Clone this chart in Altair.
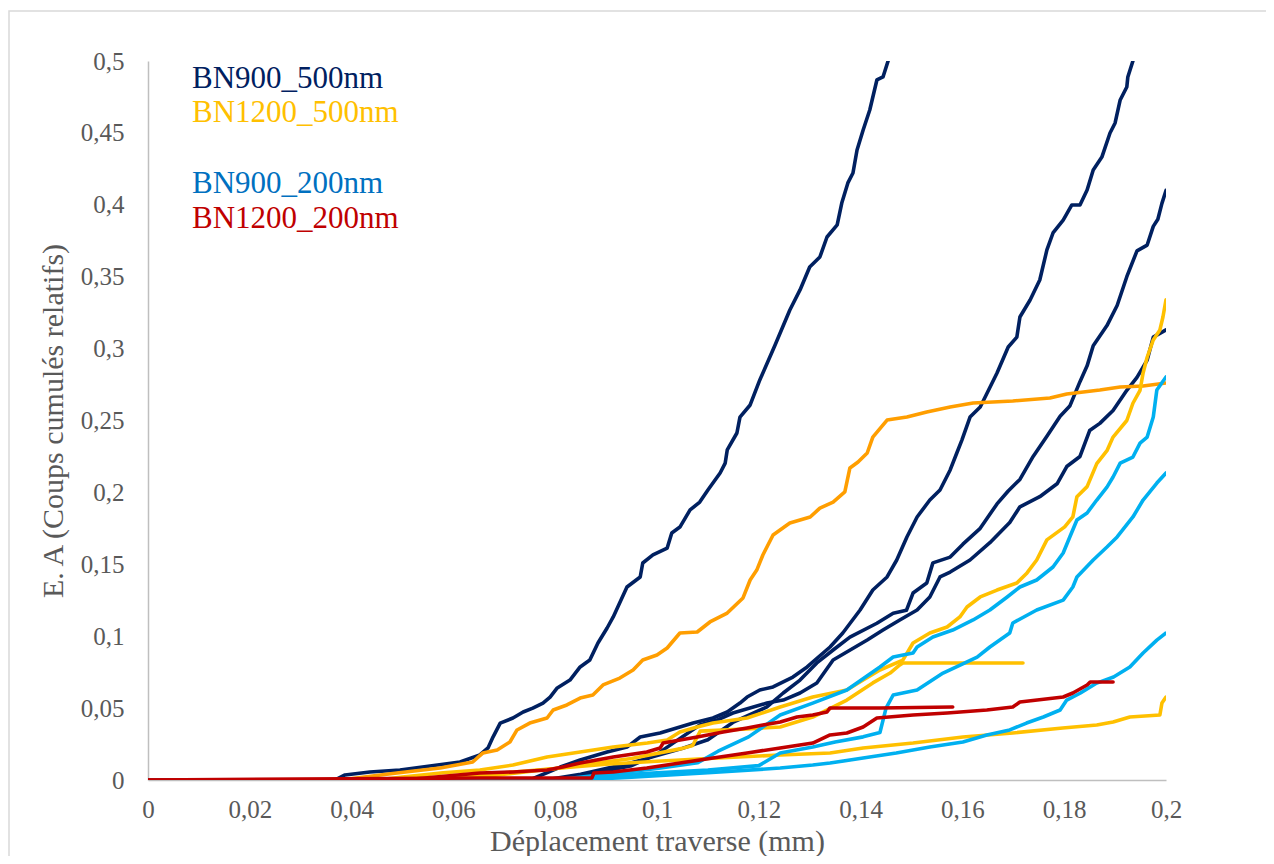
import altair as alt
import pandas as pd

# ---------------- data ----------------
N1_X = [0, 0.0367, 0.0387, 0.0436, 0.0495, 0.0554, 0.0613, 0.0652, 0.0668, 0.0678, 0.0692, 0.0717, 0.0737, 0.0756, 0.0776, 0.079, 0.0804, 0.0829, 0.0849, 0.0868, 0.0884, 0.0902, 0.0914, 0.0941, 0.0967, 0.0972, 0.0992, 0.102, 0.1029, 0.1045, 0.1065, 0.1084, 0.11, 0.1124, 0.1134, 0.1138, 0.1157, 0.1163, 0.1183, 0.1202, 0.1232, 0.1261, 0.1281, 0.130, 0.132, 0.1334, 0.1354, 0.1363, 0.1375, 0.1385, 0.1393, 0.1405, 0.1418, 0.1432, 0.1444, 0.1454]
N1_Y = [0, 0, 0.0035, 0.0056, 0.007, 0.0097, 0.0125, 0.0174, 0.0223, 0.030, 0.0396, 0.0431, 0.0473, 0.050, 0.0535, 0.0577, 0.064, 0.0695, 0.0786, 0.0834, 0.0953, 0.1057, 0.1134, 0.1342, 0.1412, 0.1509, 0.1565, 0.1613, 0.1718, 0.1759, 0.1878, 0.1933, 0.2017, 0.2135, 0.2204, 0.2295, 0.2413, 0.2524, 0.2608, 0.2782, 0.3025, 0.3268, 0.3408, 0.3567, 0.3637, 0.3776, 0.386, 0.4012, 0.4152, 0.4221, 0.4381, 0.452, 0.4659, 0.4868, 0.4889, 0.5]

N2_X = [0, 0.075, 0.081, 0.0849, 0.0902, 0.0941, 0.0967, 0.1006, 0.1045, 0.1071, 0.111, 0.1138, 0.1163, 0.1177, 0.1202, 0.1228, 0.1267, 0.1295, 0.134, 0.1365, 0.1399, 0.1424, 0.1452, 0.1471, 0.1491, 0.1511, 0.1536, 0.1556, 0.1576, 0.1589, 0.1599, 0.1615, 0.1635, 0.1668, 0.169, 0.1707, 0.1713, 0.1733, 0.1752, 0.1766, 0.1778, 0.1798, 0.1815, 0.1831, 0.1845, 0.1857, 0.1874, 0.189, 0.19, 0.191, 0.1923, 0.1925, 0.1935]
N2_Y = [0, 0, 0.009, 0.0139, 0.0195, 0.0229, 0.0299, 0.0327, 0.0369, 0.0396, 0.0431, 0.0473, 0.0535, 0.0577, 0.0626, 0.0647, 0.0716, 0.0786, 0.0925, 0.1022, 0.1182, 0.1321, 0.1412, 0.153, 0.169, 0.1829, 0.1947, 0.2017, 0.2156, 0.2274, 0.2364, 0.2524, 0.2594, 0.283, 0.3011, 0.308, 0.322, 0.3338, 0.3477, 0.3686, 0.3804, 0.3894, 0.3999, 0.3999, 0.4103, 0.4242, 0.4332, 0.4499, 0.4569, 0.4729, 0.4819, 0.4889, 0.5]

N3_X = [0, 0.078, 0.085, 0.095, 0.105, 0.11, 0.1149, 0.1216, 0.1248, 0.1281, 0.1314, 0.1346, 0.1379, 0.1432, 0.1464, 0.149, 0.1503, 0.153, 0.1542, 0.1576, 0.1601, 0.1635, 0.1668, 0.169, 0.1713, 0.1739, 0.1766, 0.1792, 0.1811, 0.1831, 0.1845, 0.1857, 0.1884, 0.1904, 0.1923, 0.1943, 0.1963, 0.1975, 0.1984, 0.1992, 0.2]
N3_Y = [0, 0, 0.004, 0.012, 0.022, 0.028, 0.040, 0.0508, 0.0605, 0.0695, 0.0814, 0.0904, 0.0994, 0.109, 0.116, 0.118, 0.13, 0.137, 0.151, 0.155, 0.164, 0.175, 0.192, 0.201, 0.209, 0.225, 0.239, 0.253, 0.26, 0.277, 0.288, 0.302, 0.316, 0.33, 0.35, 0.368, 0.372, 0.385, 0.39, 0.401, 0.41]

N4_X = [0, 0.08, 0.088, 0.095, 0.1, 0.1084, 0.1118, 0.1149, 0.1216, 0.1248, 0.1281, 0.1314, 0.1346, 0.1413, 0.1444, 0.1477, 0.1511, 0.1536, 0.1556, 0.1576, 0.1615, 0.1654, 0.1693, 0.1713, 0.1752, 0.1786, 0.1805, 0.1831, 0.185, 0.187, 0.1896, 0.1923, 0.1943, 0.1963, 0.1975, 0.2]
N4_Y = [0, 0, 0.005, 0.01, 0.018, 0.0382, 0.0417, 0.0466, 0.0535, 0.0556, 0.0605, 0.0675, 0.0834, 0.0974, 0.1043, 0.1113, 0.1182, 0.1273, 0.1412, 0.1446, 0.153, 0.165, 0.179, 0.19, 0.197, 0.206, 0.218, 0.225, 0.243, 0.248, 0.257, 0.271, 0.28, 0.292, 0.308, 0.313]

O1_X = [0, 0.0377, 0.0489, 0.0574, 0.0638, 0.0658, 0.0686, 0.0711, 0.0725, 0.075, 0.0784, 0.0796, 0.0823, 0.0849, 0.0874, 0.0894, 0.0927, 0.0953, 0.0972, 0.1, 0.102, 0.1045, 0.1079, 0.1104, 0.1138, 0.1169, 0.1183, 0.1196, 0.1208, 0.1228, 0.1261, 0.1301, 0.132, 0.1346, 0.1369, 0.1379, 0.1395, 0.1413, 0.1424, 0.1452, 0.1491, 0.153, 0.1576, 0.1621, 0.1699, 0.1772, 0.1805, 0.187, 0.191, 0.1955, 0.2]
O1_Y = [0, 0, 0.0049, 0.0083, 0.0125, 0.0188, 0.0209, 0.0264, 0.0348, 0.0396, 0.0431, 0.0487, 0.0522, 0.057, 0.0591, 0.0661, 0.0709, 0.0765, 0.0834, 0.0869, 0.0918, 0.1022, 0.1029, 0.1099, 0.1161, 0.1266, 0.1391, 0.146, 0.1565, 0.1704, 0.1787, 0.1829, 0.1891, 0.1933, 0.2003, 0.217, 0.2211, 0.2274, 0.2385, 0.2503, 0.2524, 0.2559, 0.2594, 0.2622, 0.2636, 0.2656, 0.2684, 0.2712, 0.2733, 0.274, 0.2761]

Y1_X = [0, 0.045, 0.05, 0.058, 0.0652, 0.0717, 0.0784, 0.0849, 0.0914, 0.0981, 0.102, 0.1045, 0.1079, 0.111, 0.1177, 0.1242, 0.1306, 0.1373, 0.1405, 0.1438, 0.1483, 0.1503, 0.1536, 0.157, 0.1595, 0.1609, 0.1635, 0.1668, 0.1707, 0.1727, 0.1746, 0.1766, 0.1801, 0.1817, 0.1825, 0.1845, 0.1864, 0.1884, 0.1896, 0.1923, 0.1935, 0.1949, 0.1955, 0.1963, 0.1975, 0.1988, 0.1994, 0.2]
Y1_Y = [0, 0, 0.002, 0.005, 0.007, 0.0104, 0.016, 0.0195, 0.023, 0.0257, 0.0278, 0.0334, 0.0369, 0.0396, 0.0431, 0.0508, 0.0577, 0.0626, 0.0695, 0.0765, 0.0834, 0.0953, 0.1022, 0.1064, 0.1134, 0.1203, 0.1273, 0.1321, 0.137, 0.144, 0.153, 0.167, 0.176, 0.183, 0.197, 0.204, 0.22, 0.229, 0.2385, 0.25, 0.262, 0.271, 0.283, 0.294, 0.306, 0.313, 0.322, 0.334]

Y2_X = [0, 0.05, 0.06, 0.08, 0.095, 0.105, 0.107, 0.1085, 0.115, 0.1242, 0.1306, 0.1373, 0.1424, 0.1458, 0.1477, 0.1483, 0.1719]
Y2_Y = [0, 0, 0.002, 0.008, 0.015, 0.022, 0.024, 0.034, 0.035, 0.0369, 0.0438, 0.0556, 0.0675, 0.0744, 0.08, 0.0814, 0.0814]

Y3_X = [0, 0.06, 0.07, 0.08, 0.09, 0.1, 0.11, 0.1242, 0.134, 0.1405, 0.1503, 0.1601, 0.1699, 0.1797, 0.1864, 0.1896, 0.1929, 0.1988, 0.1992, 0.2]
Y3_Y = [0, 0, 0.004, 0.008, 0.011, 0.013, 0.015, 0.0174, 0.0188, 0.0223, 0.0257, 0.0299, 0.0327, 0.0362, 0.0382, 0.0403, 0.0438, 0.0452, 0.0535, 0.0577]

B1_X = [0, 0.08, 0.09, 0.1, 0.108, 0.112, 0.118, 0.1242, 0.1306, 0.1373, 0.1438, 0.1464, 0.1503, 0.1511, 0.1542, 0.1581, 0.1621, 0.1654, 0.1688, 0.1713, 0.1746, 0.1778, 0.1798, 0.1811, 0.1825, 0.1845, 0.1864, 0.1884, 0.1896, 0.191, 0.1935, 0.1949, 0.1963, 0.1975, 0.1982, 0.2]
B1_Y = [0, 0, 0.004, 0.008, 0.012, 0.02, 0.03, 0.0452, 0.0535, 0.0626, 0.0786, 0.0855, 0.0883, 0.0925, 0.0994, 0.1043, 0.1113, 0.1182, 0.1273, 0.1342, 0.1391, 0.1481, 0.1579, 0.169, 0.1808, 0.1857, 0.1947, 0.2037, 0.2107, 0.2204, 0.2246, 0.2343, 0.2385, 0.2524, 0.2712, 0.2803]

B2_X = [0, 0.085, 0.09, 0.1, 0.11, 0.12, 0.1242, 0.1306, 0.135, 0.1405, 0.1438, 0.145, 0.1464, 0.1511, 0.1562, 0.1629, 0.1654, 0.1693, 0.1699, 0.1746, 0.1798, 0.1817, 0.1825, 0.1857, 0.1884, 0.1904, 0.1935, 0.1955, 0.1982, 0.2]
B2_Y = [0, 0, 0.003, 0.005, 0.007, 0.01, 0.0188, 0.0229, 0.0264, 0.030, 0.033, 0.050, 0.0591, 0.0626, 0.0744, 0.0855, 0.0925, 0.1022, 0.1092, 0.1182, 0.1251, 0.1342, 0.1412, 0.153, 0.162, 0.169, 0.1829, 0.1947, 0.2065, 0.2135]

B3_X = [0, 0.085, 0.095, 0.11, 0.1242, 0.1306, 0.134, 0.1405, 0.147, 0.1536, 0.1601, 0.1648, 0.1693, 0.1726, 0.1759, 0.1792, 0.1805, 0.1832, 0.1864, 0.1897, 0.1929, 0.1955, 0.1982, 0.2]
B3_Y = [0, 0, 0.002, 0.005, 0.0083, 0.0104, 0.0118, 0.0153, 0.0188, 0.0229, 0.0264, 0.0313, 0.0348, 0.0396, 0.0438, 0.0487, 0.0556, 0.0605, 0.0674, 0.0716, 0.0786, 0.0883, 0.0973, 0.1022]

R1_X = [0, 0.05, 0.0652, 0.0717, 0.0784, 0.0815, 0.0849, 0.0914, 0.098, 0.1006, 0.1012, 0.1079, 0.113, 0.1177, 0.1208, 0.1242, 0.1275, 0.1306, 0.1334, 0.134, 0.1438, 0.1581]
R1_Y = [0, 0, 0.0049, 0.0056, 0.007, 0.009, 0.0118, 0.016, 0.0195, 0.0222, 0.0257, 0.0299, 0.0334, 0.0362, 0.0382, 0.0403, 0.0438, 0.0452, 0.0473, 0.0501, 0.0501, 0.0508]

R2_X = [0, 0.0652, 0.0872, 0.0876, 0.0914, 0.098, 0.1045, 0.111, 0.1177, 0.1242, 0.1306, 0.134, 0.1373, 0.1405, 0.1432, 0.1503, 0.157, 0.1648, 0.1699, 0.1713, 0.1798, 0.1817, 0.1845, 0.1851, 0.1896]
R2_Y = [0, 0.0014, 0.0014, 0.0049, 0.0056, 0.0083, 0.0118, 0.0153, 0.0188, 0.0223, 0.0257, 0.0313, 0.0327, 0.0369, 0.0431, 0.0452, 0.0466, 0.0487, 0.0508, 0.0542, 0.0577, 0.0605, 0.0661, 0.0681, 0.0681]

CURVE_NAMES = ["N1", "N2", "N3", "N4", "O1", "Y1", "Y2", "Y3", "B1", "B2", "B3", "R1", "R2"]
CURVE_COLORS = ["#002060", "#002060", "#002060", "#002060", "#FF9E00", "#FFC000", "#FFC000", "#FFC000",
                "#00B0F0", "#00B0F0", "#00B0F0", "#C00000", "#C00000"]
CURVE_DATA = [(N1_X, N1_Y), (N2_X, N2_Y), (N3_X, N3_Y), (N4_X, N4_Y), (O1_X, O1_Y), (Y1_X, Y1_Y),
              (Y2_X, Y2_Y), (Y3_X, Y3_Y), (B1_X, B1_Y), (B2_X, B2_Y), (B3_X, B3_Y), (R1_X, R1_Y), (R2_X, R2_Y)]

LEGEND_LABELS = ["BN900_500nm", "BN1200_500nm", "BN900_200nm", "BN1200_200nm"]
LEGEND_COLORS = ["#002060", "#FFC000", "#0070C0", "#C00000"]

X_TICKS = [0, 0.02, 0.04, 0.06, 0.08, 0.1, 0.12, 0.14, 0.16, 0.18, 0.2]
Y_TICKS = [0, 0.05, 0.1, 0.15, 0.2, 0.25, 0.3, 0.35, 0.4, 0.45, 0.5]

X_TITLE = "Déplacement traverse (mm)"
Y_TITLE = "E. A (Coups cumulés relatifs)"

rows = []
for k, (name, (xs, ys)) in enumerate(zip(CURVE_NAMES, CURVE_DATA)):
    for i, (xv, yv) in enumerate(zip(xs, ys)):
        rows.append({"curve": name, "x": xv, "y": yv, "i": i, "z": k})
df = pd.DataFrame(rows)

FONT = "Liberation Serif"
GREY = "#595959"

W, H = 1018, 719

lines = alt.Chart(df).mark_line(strokeWidth=3.6, clip=True, strokeJoin="round", strokeCap="round").encode(
    x=alt.X("x:Q", scale=alt.Scale(domain=[0, 0.2], nice=False),
            axis=alt.Axis(values=X_TICKS, labelFlush=False,
                          labelExpr="replace(format(datum.value, '.2~f'), '.', ',')",
                          title=X_TITLE, titleX=W / 2, titleY=70, titleBaseline="alphabetic",
                          labelPadding=17)),
    y=alt.Y("y:Q", scale=alt.Scale(domain=[0, 0.5], nice=False),
            axis=alt.Axis(values=Y_TICKS,
                          labelExpr="replace(format(datum.value, '.2~f'), '.', ',')",
                          title=Y_TITLE, titleX=-95, titleY=H / 2, titleAngle=-90,
                          titleBaseline="middle", titleAlign="center", labelPadding=24)),
    color=alt.Color("curve:N", scale=alt.Scale(domain=CURVE_NAMES, range=CURVE_COLORS), legend=None),
    detail="curve:N",
    order="i:Q",
)

legend_layers = []
LEG_Y = [27, 61, 132, 167]
for lab, col, yy in zip(LEGEND_LABELS, LEGEND_COLORS, LEG_Y):
    legend_layers.append(
        alt.Chart(pd.DataFrame({"t": [lab]})).mark_text(
            font=FONT, fontSize=31, color=col, align="left", baseline="alphabetic"
        ).encode(text="t:N", x=alt.value(44), y=alt.value(yy))
    )

border = alt.Chart(pd.DataFrame({"a": [0]})).mark_rect(
    fill=None, stroke="#d9d9d9", strokeWidth=1.5
).encode(x=alt.value(-139), x2=alt.value(1140), y=alt.value(-50), y2=alt.value(820))

chart = alt.layer(border, lines, *legend_layers).properties(
    width=W, height=H,
    padding={"left": 140, "top": 53, "right": 100, "bottom": 76},
    autosize=alt.AutoSizeParams(type="none"),
    background="white",
).configure_view(stroke=None).configure_axis(
    grid=False, ticks=False, domainColor="#bfbfbf", domainWidth=1.5,
    labelFont=FONT, labelFontSize=25, labelColor=GREY,
    titleFont=FONT, titleFontSize=30, titleColor=GREY, titleFontWeight="normal",
)

chart.save("out.html", embed_options={"renderer": "svg", "actions": False})
